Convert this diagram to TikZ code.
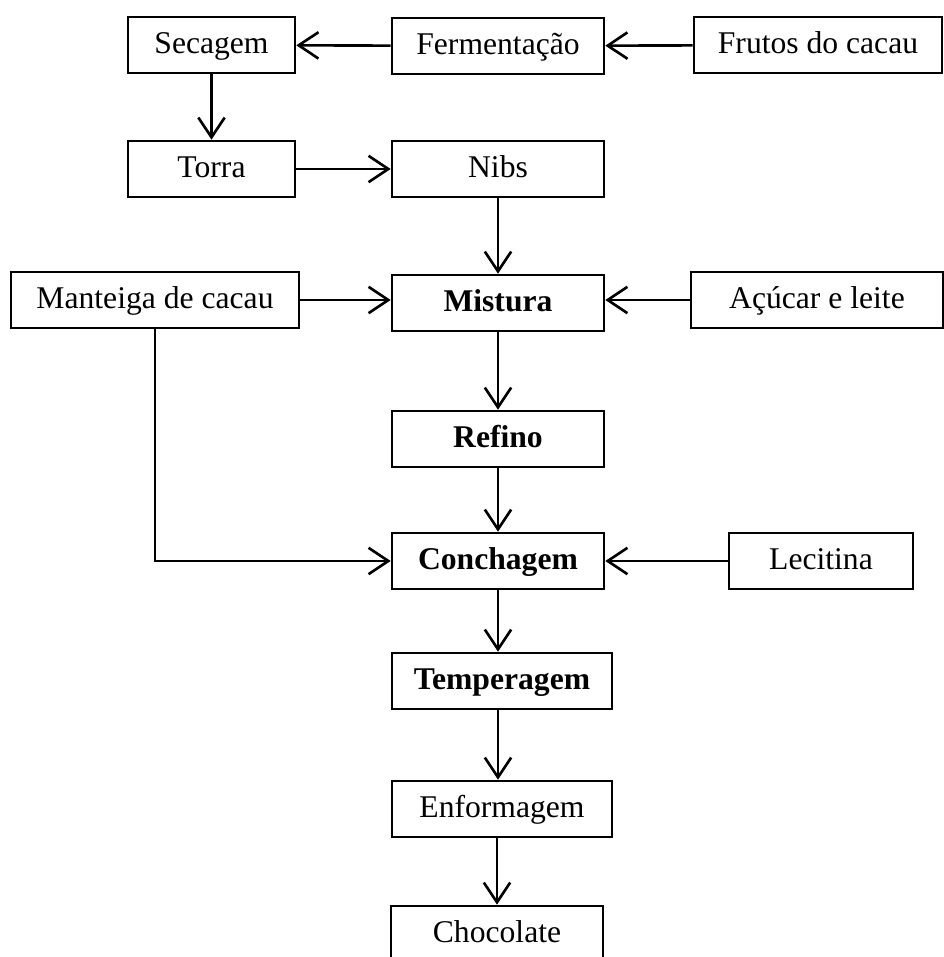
\documentclass[tikz,border=0pt]{standalone}
\usepackage{fontspec}
\setmainfont{Liberation Serif}
\usepackage{tikz}
\usetikzlibrary{
    arrows.meta,
}

\begin{document}
\begin{tikzpicture}[%
    x=0.01333cm,
    y=-0.01333cm,
    every node/.style={
        font=\fontsize{12}{14}\selectfont,
        draw,
        rectangle,
        inner sep=0,
        minimum height=0.747cm,
        text height=0.64em,
        text depth=0pt,
        line width=1pt,
    },
    step name/.style={font=\fontsize{12}{14}\selectfont\bfseries},
    flow/.style={
        draw,
        line width=1pt,
        -{Straight Barb[length=7.5pt,width=10pt,line width=1pt]}
    }
]

\useasboundingbox (0, 0) rectangle (943, 957);

\node [minimum width=2.227cm] (secagem)     at (211.5, 45)  {Secagem};
\node [minimum width=2.827cm] (fermentacao) at (498, 46)    {Fermentação};
\node [minimum width=3.307cm] (frutos)      at (818, 45)    {Frutos do cacau};
\node [minimum width=2.227cm] (torra)       at (211.5, 169) {Torra};
\node [minimum width=2.827cm] (nibs)        at (498, 169)   {Nibs};
\node [minimum width=3.84cm]  (manteiga)    at (155, 300)   {Manteiga de cacau};
\node [minimum width=2.827cm, step name] (mistura) at (498, 303) {Mistura};
\node [minimum width=3.36cm]  (acucar)      at (817, 300)   {Açúcar e leite};
\node [minimum width=2.827cm, step name] (refino)    at (498, 439) {Refino};
\node [minimum width=2.827cm, step name] (conchagem) at (498, 561) {Conchagem};
\node [minimum width=2.453cm] (lecitina)    at (821, 561)   {Lecitina};
\node [minimum width=2.933cm, step name] (temperagem) at (502, 681) {Temperagem};
\node [minimum width=2.933cm] (enformagem)  at (502, 809)   {Enformagem};
\node [minimum width=2.827cm] (chocolate)   at (497, 934)   {Chocolate};

% entradas
\draw [flow] (frutos) -- (fermentacao);
\draw [flow] (fermentacao) -- (secagem);
\draw [flow] (secagem) -- (torra);
\draw [flow] (torra) -- (nibs);
\draw [flow] (nibs) -- (mistura);
\draw [flow] (manteiga.east) -- (manteiga.east -| mistura.west);
\draw [flow] (acucar.west) -- (acucar.west -| mistura.east);
\draw [flow] (manteiga.south) |- (conchagem.west);
\draw [flow] (lecitina) -- (conchagem);

% linha principal
\draw [flow] (mistura) -- (refino);
\draw [flow] (refino) -- (conchagem);
\draw [flow] (conchagem.south) -- (conchagem.south |- temperagem.north);
\draw [flow] (temperagem.south -| conchagem.south) -- (enformagem.north -| conchagem.south);
\draw [flow] (enformagem.south -| chocolate.north) -- (chocolate);

\end{tikzpicture}
\end{document}
